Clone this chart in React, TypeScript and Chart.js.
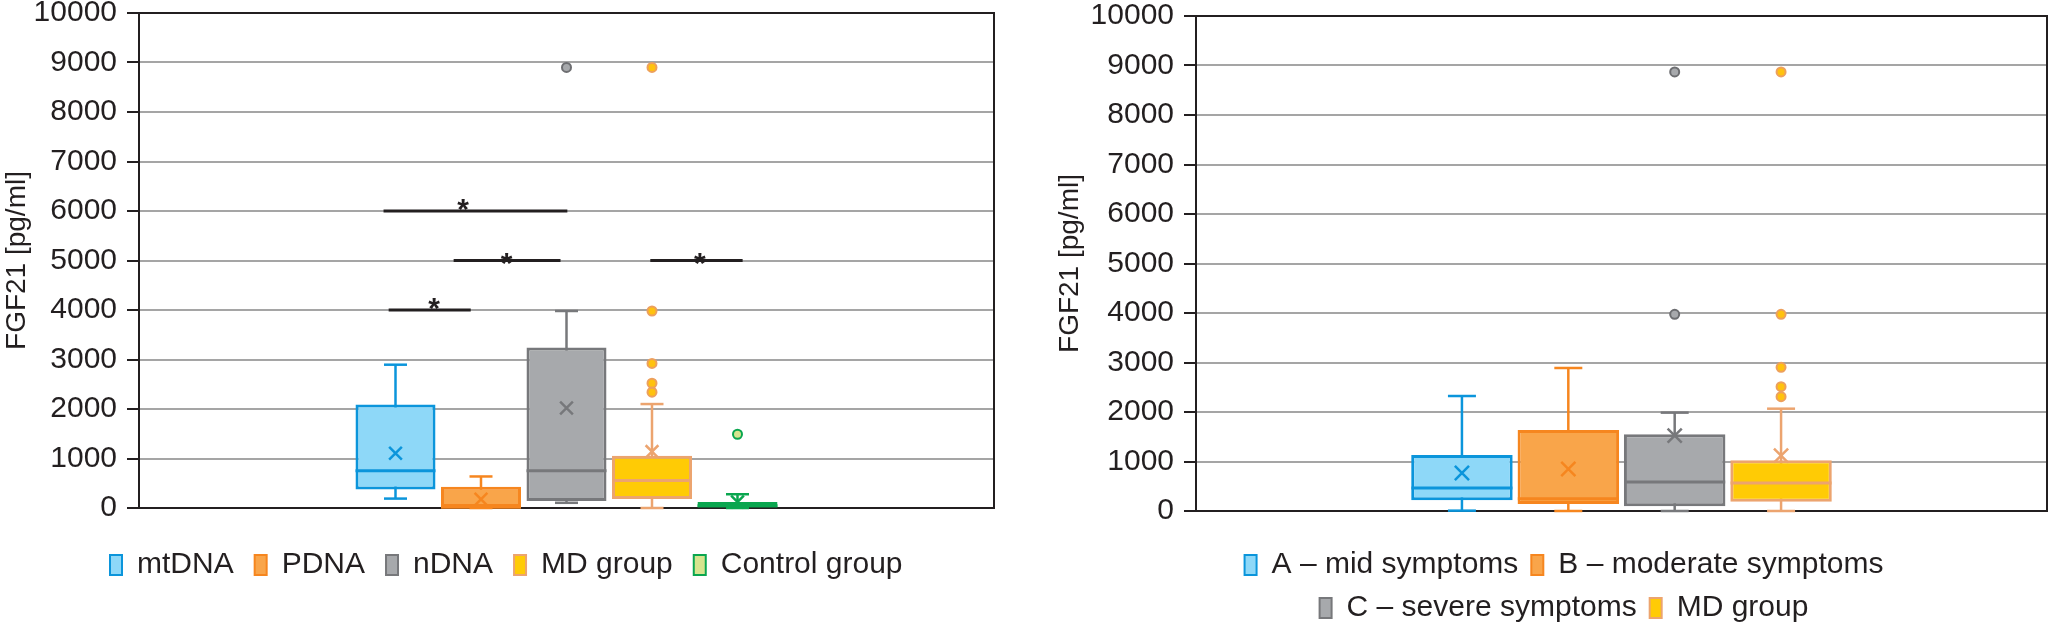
import React, { useEffect, useRef } from 'react';
import { Chart, registerables } from 'chart.js';

Chart.register(...registerables);

const INK = '#231f20';
const GRID = '#a5a5a5';
const SANS = "'Liberation Sans Narrow', 'Arial Narrow', 'Liberation Sans', Arial, sans-serif";

// ---------- value axis ----------
const yMin = 0;
const yMax = 10000;
const yStep = 1000;
const yTitle = 'FGF21 [pg/ml]';

// ---------- left panel: genetic groups ----------
const leftGroups = ['mtDNA', 'PDNA', 'nDNA', 'MD group', 'Control group'];
const leftLow = [190, 0, 105, 0, 0];
const leftQ1 = [373, 0, 142, 183, 8];
const leftMedian = [753, 15, 753, 556, 45];
const leftQ3 = [2090, 427, 3240, 1058, 120];
const leftHigh = [2895, 637, 3980, 2100, 278];
const leftMean = [1105, 176, 2020, 1139, 122];
const leftOutliers: number[][] = [[], [], [8900], [8900, 3980, 2920, 2520, 2340], [1490]];

// significance brackets of the left panel (x in category-slot units)
const sigFrom = [2.86, 3.68, 2.92, 5.98];
const sigTo = [5.01, 4.93, 3.88, 7.06];
const sigLevel = [6000, 5000, 4000, 5000];
const sigMarkX = [3.79, 4.3, 3.45, 6.56];
const sigMarkY = [6200, 5100, 4180, 5100];
const sigMarks = ['*', '*', '*', '*'];

// ---------- right panel: symptom severity ----------
const rightGroups = ['A – mid symptoms', 'B – moderate symptoms', 'C – severe symptoms', 'MD group'];
const rightLow = [7, 0, 0, 0];
const rightQ1 = [215, 141, 94, 189];
const rightMedian = [465, 249, 586, 566];
const rightQ3 = [1131, 1636, 1549, 1024];
const rightHigh = [2323, 2889, 1987, 2067];
const rightMean = [768, 848, 1522, 1118];
const rightOutliers: number[][] = [[], [], [8870, 3973], [8870, 3973, 2902, 2512, 2310]];

// ---------- styles ----------
type BoxStyle = { fill: string; line: string; dotFill: string; dotLine: string };
const BLUE: BoxStyle = { fill: '#8ed8f8', line: '#0b95db', dotFill: '#8ed8f8', dotLine: '#0b95db' };
const ORANGE: BoxStyle = { fill: '#f9a54a', line: '#f6861f', dotFill: '#f9a54a', dotLine: '#f6861f' };
const GRAY: BoxStyle = { fill: '#a7a9ac', line: '#77787b', dotFill: '#a7a9ac', dotLine: '#6d6e71' };
const YELLOW: BoxStyle = { fill: '#ffcb05', line: '#eca46f', dotFill: '#ffc20e', dotLine: '#eda05d' };
const GREEN: BoxStyle = { fill: '#d6e48f', line: '#0aa64f', dotFill: '#d6e48f', dotLine: '#0aa64f' };

const leftStyles = [BLUE, ORANGE, GRAY, YELLOW, GREEN];
const rightStyles = [BLUE, ORANGE, GRAY, YELLOW];

type Dims = { boxPct: number; border: number; whisker: number; cap: number; mean: number; medianHalf: number; dot: number };

function boxDatasets(
  groups: string[], low: number[], q1: number[], median: number[], q3: number[], high: number[],
  mean: number[], outliers: number[][], styles: BoxStyle[], slots: number, d: Dims
) {
  const sets: any[] = [];
  const n = groups.length;
  groups.forEach((name, i) => {
    const x = slots / 2 + i - (n - 1) / 2;
    const s = styles[i];
    sets.push({
      type: 'line', label: name + ' whisker', data: [{ x, y: low[i] }, { x, y: high[i] }],
      borderColor: s.line, borderWidth: d.whisker, pointRadius: 0, pointHoverRadius: 0, pointHitRadius: 0, order: 3, clip: false,
    });
    sets.push({
      type: 'bar', label: name, data: [{ x, y: [q1[i], q3[i]] }],
      backgroundColor: s.fill, borderColor: s.line, borderWidth: d.border, borderSkipped: false,
      grouped: false, categoryPercentage: 1, barPercentage: d.boxPct, order: 2,
    });
    sets.push({
      type: 'scatter', label: name + ' median', data: [{ x, y: median[i] }],
      pointStyle: 'line', pointRadius: d.medianHalf, pointHoverRadius: d.medianHalf,
      borderColor: s.line, borderWidth: d.border, order: 1, clip: false,
    });
    sets.push({
      type: 'scatter', label: name + ' caps', data: [{ x, y: low[i] }, { x, y: high[i] }],
      pointStyle: 'line', pointRadius: d.cap, pointHoverRadius: d.cap,
      borderColor: s.line, borderWidth: d.whisker, order: 1, clip: false,
    });
    sets.push({
      type: 'scatter', label: name + ' mean', data: [{ x, y: mean[i] }],
      pointStyle: 'crossRot', pointRadius: d.mean, pointHoverRadius: d.mean,
      borderColor: s.line, borderWidth: d.whisker, order: 1, clip: false,
    });
    if (outliers[i].length) {
      sets.push({
        type: 'scatter', label: name + ' outliers', data: outliers[i].map((y) => ({ x, y })),
        pointStyle: 'circle', pointRadius: d.dot, pointHoverRadius: d.dot,
        backgroundColor: s.dotFill, borderColor: s.dotLine, borderWidth: 2, order: 0, clip: false,
      });
    }
  });
  return sets;
}

function sigDatasets() {
  return sigFrom.map((from, i) => ({
    type: 'line', label: 'sig ' + i, data: [{ x: from, y: sigLevel[i] }, { x: sigTo[i], y: sigLevel[i] }],
    borderColor: INK, borderWidth: 3, pointRadius: 0, pointHoverRadius: 0, pointHitRadius: 0, order: 1, clip: false,
  }));
}

const framePlugin = {
  id: 'frame',
  beforeDatasetsDraw(chart: any) {
    const { ctx, chartArea: a } = chart;
    ctx.save();
    ctx.strokeStyle = INK;
    ctx.lineWidth = 2;
    ctx.beginPath();
    ctx.moveTo(a.left, a.top);
    ctx.lineTo(a.right, a.top);
    ctx.lineTo(a.right, a.bottom);
    ctx.stroke();
    ctx.restore();
  },
};

const STAR_SIZE = 30;
const starPlugin = {
  id: 'sigStars',
  afterDatasetsDraw(chart: any) {
    const { ctx, scales } = chart;
    ctx.save();
    ctx.fillStyle = INK;
    ctx.font = `bold ${STAR_SIZE}px 'Liberation Sans', Arial, sans-serif`;
    ctx.textAlign = 'center';
    ctx.textBaseline = 'alphabetic';
    sigMarks.forEach((m, i) => {
      const px = scales.x.getPixelForValue(sigMarkX[i]);
      const py = scales.y.getPixelForValue(sigMarkY[i]) + STAR_SIZE * 0.58;
      ctx.fillText(m, px, py);
    });
    ctx.restore();
  },
};

type BoxChartProps = {
  left: number; top: number; width: number; height: number;
  padTop: number; padRight: number; yAxisWidth: number; xAxisHeight: number;
  slots: number; datasets: any[]; plugins: any[];
};

function BoxChart(p: BoxChartProps) {
  const ref = useRef<HTMLCanvasElement | null>(null);
  useEffect(() => {
    if (!ref.current) return;
    const chart = new Chart(ref.current, {
      type: 'bar',
      data: { datasets: p.datasets },
      options: {
        responsive: false,
        animation: false,
        events: [],
        layout: { autoPadding: false, padding: { top: p.padTop, right: p.padRight, left: 0, bottom: 0 } },
        plugins: { legend: { display: false }, tooltip: { enabled: false } },
        scales: {
          x: {
            type: 'linear', min: 0, max: p.slots, offset: false,
            ticks: { display: false, stepSize: 1 },
            grid: { display: false, drawTicks: false },
            border: { display: true, color: INK, width: 2 },
            afterFit: (s: any) => { s.height = p.xAxisHeight; s.paddingLeft = 0; s.paddingRight = 0; s.paddingTop = 0; s.paddingBottom = 0; },
          },
          y: {
            type: 'linear', min: yMin, max: yMax,
            ticks: {
              stepSize: yStep, padding: 10, color: INK,
              font: { family: SANS, size: 30 },
              callback: (v: any) => String(v),
            },
            grid: { color: GRID, lineWidth: 2, tickColor: INK, tickWidth: 2, tickLength: 12, drawTicks: true },
            border: { display: true, color: INK, width: 2 },
            title: {
              display: true, text: yTitle, color: INK,
              font: { family: SANS, size: 28, lineHeight: 1 }, padding: { top: 3, bottom: 0 },
            },
            afterFit: (s: any) => { s.width = p.yAxisWidth; s.paddingTop = 0; s.paddingBottom = 0; s.paddingLeft = 0; s.paddingRight = 0; },
          },
        },
      } as any,
      plugins: p.plugins,
    } as any);
    return () => chart.destroy();
  }, []);
  return (
    <canvas
      ref={ref}
      width={p.width}
      height={p.height}
      style={{ position: 'absolute', left: p.left, top: p.top, width: p.width, height: p.height }}
    />
  );
}

type LegendProps = {
  left: number; top: number; width: number; height: number;
  labels: string[]; styles: BoxStyle[]; align: 'start' | 'center'; padding: number;
};

function LegendChart(p: LegendProps) {
  const ref = useRef<HTMLCanvasElement | null>(null);
  useEffect(() => {
    if (!ref.current) return;
    const chart = new Chart(ref.current, {
      type: 'bar',
      data: {
        labels: [],
        datasets: p.labels.map((l, i) => ({
          label: l, data: [], backgroundColor: p.styles[i].fill, borderColor: p.styles[i].line, borderWidth: 2,
        })),
      },
      options: {
        responsive: false,
        animation: false,
        events: [],
        layout: { autoPadding: false, padding: 0 },
        scales: { x: { display: false }, y: { display: false } },
        plugins: {
          tooltip: { enabled: false },
          legend: {
            display: true, position: 'top', align: p.align,
            labels: { boxWidth: 12, boxHeight: 20, padding: p.padding, color: INK, font: { family: SANS, size: 30 } },
          },
        },
      } as any,
    } as any);
    return () => chart.destroy();
  }, []);
  return (
    <canvas
      ref={ref}
      width={p.width}
      height={p.height}
      style={{ position: 'absolute', left: p.left, top: p.top, width: p.width, height: p.height }}
    />
  );
}

const leftSlots = 10;
const rightSlots = 8;

export default function App() {
  const leftSets = [
    ...boxDatasets(leftGroups, leftLow, leftQ1, leftMedian, leftQ3, leftHigh, leftMean, leftOutliers, leftStyles, leftSlots,
      { boxPct: 0.936, border: 3, whisker: 2.5, cap: 11.5, mean: 9, medianHalf: 40, dot: 4.5 }),
    ...sigDatasets(),
  ];
  const rightSets = boxDatasets(rightGroups, rightLow, rightQ1, rightMedian, rightQ3, rightHigh, rightMean, rightOutliers, rightStyles, rightSlots,
    { boxPct: 0.954, border: 3, whisker: 2.5, cap: 14, mean: 10, medianHalf: 50.5, dot: 4.5 });
  return (
    <div style={{ position: 'absolute', left: 0, top: 0, width: 2053, height: 625, background: '#ffffff', overflow: 'hidden' }}>
      <BoxChart left={0} top={0} width={1010} height={528} padTop={13} padRight={16} yAxisWidth={139} xAxisHeight={20}
        slots={leftSlots} datasets={leftSets} plugins={[framePlugin, starPlugin]} />
      <BoxChart left={1053} top={0} width={1000} height={531} padTop={16} padRight={6} yAxisWidth={143} xAxisHeight={20}
        slots={rightSlots} datasets={rightSets} plugins={[framePlugin]} />
      <LegendChart left={89} top={529} width={900} height={110} labels={leftGroups} styles={leftStyles} align="start" padding={21} />
      <LegendChart left={1164} top={537} width={800} height={200} labels={rightGroups} styles={rightStyles} align="center" padding={13} />
    </div>
  );
}
